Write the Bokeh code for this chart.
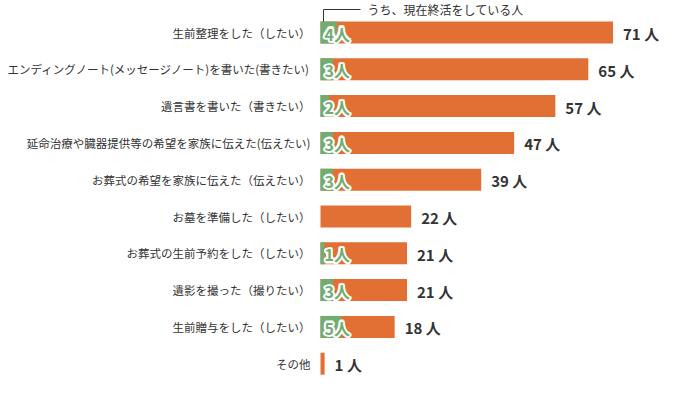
from bokeh.plotting import figure
from bokeh.models import Range1d, ColumnDataSource
from bokeh.core.properties import value
from bokeh.embed import file_html
from bokeh.resources import INLINE

categories = [
    "生前整理をした（したい）",
    "エンディングノート(メッセージノート)を書いた(書きたい)",
    "遺言書を書いた（書きたい）",
    "延命治療や臓器提供等の希望を家族に伝えた(伝えたい)",
    "お葬式の希望を家族に伝えた（伝えたい）",
    "お墓を準備した（したい）",
    "お葬式の生前予約をした（したい）",
    "遺影を撮った（撮りたい）",
    "生前贈与をした（したい）",
    "その他",
]
totals = [71, 65, 57, 47, 39, 22, 21, 21, 18, 1]
current = [4, 3, 2, 3, 3, 0, 1, 3, 5, 0]
unit = "人"
annotation = "うち、現在終活をしている人"

W, H = 662, 377
K = 4.12          # px per person
X0 = 320          # px where bars start
Y0 = 32           # px centre of first row
S = 36.8          # px between rows
BAR_H = 22 / S

ORANGE = "#E27035"
GREEN = "#6FAE70"
DARK = "#333333"
FONT = "Noto Sans CJK JP"

rows = list(range(len(categories)))

p = figure(width=W, height=H, output_backend="svg", toolbar_location=None,
           x_range=Range1d(-X0 / K, (W - X0) / K),
           y_range=Range1d((H - Y0) / S, -Y0 / S),
           min_border=0, outline_line_color=None)
p.axis.visible = False
p.grid.visible = False
p.background_fill_color = "white"

src = ColumnDataSource(dict(
    y=rows, cat=categories, total=totals, cur=current,
    tlabel=[f"{t} {unit}" for t in totals],
))
p.hbar(y="y", left=0, right="total", height=BAR_H, source=src,
       fill_color=ORANGE, line_color=None)

gi = [i for i, c in enumerate(current) if c > 0]
gsrc = ColumnDataSource(dict(
    y=[rows[i] for i in gi], cur=[current[i] for i in gi],
    clabel=[f"{current[i]}{unit}" for i in gi],
))
p.hbar(y="y", left=0, right="cur", height=BAR_H, source=gsrc,
       fill_color=GREEN, line_color=None)

p.text(x=0, y="y", text="cat", source=src, x_offset=-10,
       text_align="right", text_baseline="middle",
       text_font=value(FONT), text_font_size="11.5px", text_color=DARK)

p.text(x="total", y="y", text="tlabel", source=src, x_offset=10, y_offset=1,
       text_align="left", text_baseline="middle",
       text_font=value(FONT), text_font_size="15px", text_font_style="bold",
       text_color=DARK)

# white halo behind the green in-bar labels
for dx, dy in [(-1.5, 0), (1.5, 0), (0, -1.5), (0, 1.5),
               (-1.1, -1.1), (1.1, -1.1), (-1.1, 1.1), (1.1, 1.1)]:
    p.text(x=0, y="y", text="clabel", source=gsrc, x_offset=4 + dx, y_offset=1 + dy,
           text_align="left", text_baseline="middle",
           text_font=value(FONT), text_font_size="16px", text_font_style="bold",
           text_color="white", text_outline_color="white")
p.text(x=0, y="y", text="clabel", source=gsrc, x_offset=4, y_offset=1,
       text_align="left", text_baseline="middle",
       text_font=value(FONT), text_font_size="16px", text_font_style="bold",
       text_color=GREEN)

# leader line to annotation
ya = (9 - Y0) / S
lx = 3 / K
p.line(x=[lx, lx, (360 - X0) / K], y=[0 - BAR_H / 2, ya, ya],
       line_color=DARK, line_width=1)
p.text(x=[(367 - X0) / K], y=[ya], text=[annotation],
       text_align="left", text_baseline="middle",
       text_font=value(FONT), text_font_size="12px", text_color=DARK)

open("out.html", "w").write(file_html(p, INLINE))
